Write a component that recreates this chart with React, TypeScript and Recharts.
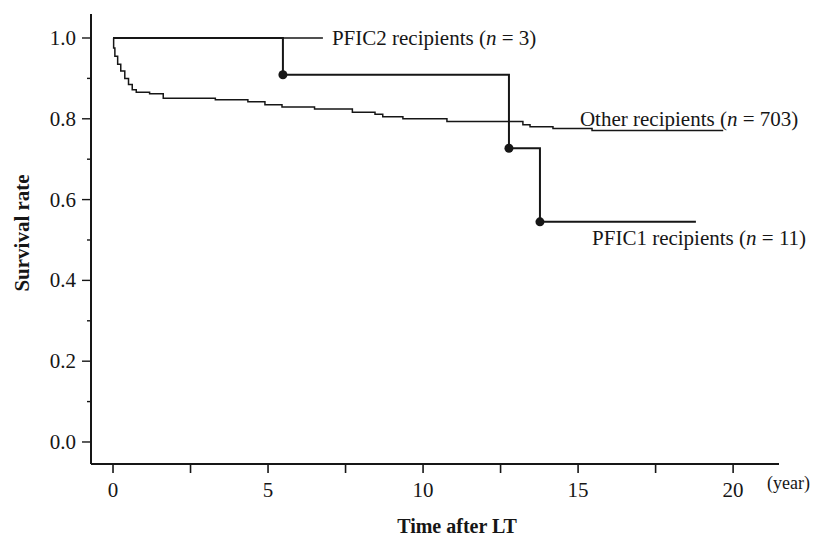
import { ComposedChart, Line, Scatter, XAxis, YAxis, ReferenceDot, Label } from 'recharts';

// Kaplan-Meier steps (time in years, survival rate)
const otherTimes = [0, 0.02, 0.06, 0.15, 0.25, 0.38, 0.5, 0.62, 0.75, 1.18, 1.62, 3.3, 4.35, 4.9, 5.45, 6.5, 7.72, 8.45, 8.7, 9.35, 10.77, 13.22, 13.45, 14.19, 15.45, 19.68];
const otherRates = [1.0, 0.975, 0.955, 0.935, 0.918, 0.9, 0.885, 0.872, 0.866, 0.862, 0.851, 0.847, 0.842, 0.835, 0.829, 0.824, 0.816, 0.811, 0.805, 0.8, 0.793, 0.785, 0.78, 0.776, 0.771, 0.771];

const pfic1Times = [0, 5.48, 12.77, 13.77, 18.8];
const pfic1Rates = [1.0, 0.909, 0.727, 0.545, 0.545];

const pfic2Times = [0, 6.77];
const pfic2Rates = [1.0, 1.0];

const pfic1EventTimes = [5.48, 12.77, 13.77];
const pfic1EventRates = [0.909, 0.727, 0.545];

const xTicks = [0, 2.5, 5, 7.5, 10, 12.5, 15, 17.5, 20];
const xTickLabels = ['0', '', '5', '', '10', '', '15', '', '20'];
const yTicks = [0, 0.1, 0.2, 0.3, 0.4, 0.5, 0.6, 0.7, 0.8, 0.9, 1.0];
const yTickLabels = ['0.0', '', '0.2', '', '0.4', '', '0.6', '', '0.8', '', '1.0'];

const toRows = (ts: number[], vs: number[]) => ts.map((t, i) => ({ t, v: vs[i] }));
const otherData = toRows(otherTimes, otherRates);
const pfic1Data = toRows(pfic1Times, pfic1Rates);
const pfic2Data = toRows(pfic2Times, pfic2Rates);
const pfic1Events = toRows(pfic1EventTimes, pfic1EventRates);

const FONT = "'Liberation Serif', 'Times New Roman', serif";
const INK = '#161616';
const TICK_SIZE = 9;
const TICK_MARGIN = 6;

const XTick = (props: any) => {
  const { x, y, payload } = props;
  const axisY = y - TICK_SIZE - TICK_MARGIN;
  const label = xTickLabels[xTicks.indexOf(payload.value)];
  return (
    <g>
      <line x1={x} x2={x} y1={axisY} y2={axisY + 9} stroke={INK} strokeWidth={1.6} />
      <text x={x} y={axisY + 33} textAnchor="middle" fontFamily={FONT} fontSize={21} fill={INK}>
        {label}
      </text>
    </g>
  );
};

const YTick = (props: any) => {
  const { x, y, payload } = props;
  const axisX = x + TICK_SIZE + TICK_MARGIN;
  const label = yTickLabels[yTicks.indexOf(payload.value)];
  const len = label ? 9 : 4;
  return (
    <g>
      <line x1={axisX - len} x2={axisX} y1={y} y2={y} stroke={INK} strokeWidth={1.4} />
      <text x={axisX - 15} y={y + 7} textAnchor="end" fontFamily={FONT} fontSize={21} fill={INK}>
        {label}
      </text>
    </g>
  );
};

const seriesLabel = (name: string, n: string) => (props: any) => {
  const { viewBox } = props;
  const cx = viewBox.x + viewBox.width / 2;
  const cy = viewBox.y + viewBox.height / 2;
  return (
    <text x={cx} y={cy + 7} fontFamily={FONT} fontSize={21} fill={INK}>
      <tspan>{name} (</tspan>
      <tspan fontStyle="italic">n</tspan>
      <tspan> = {n})</tspan>
    </text>
  );
};

const xTitle = (props: any) => {
  const { viewBox } = props;
  return (
    <g>
      <text x={viewBox.x + 366} y={viewBox.y + 69} textAnchor="middle" fontFamily={FONT} fontSize={20} fontWeight="bold" fill={INK}>
        Time after LT
      </text>
      <text x={viewBox.x + viewBox.width - 12} y={viewBox.y + 25} fontFamily={FONT} fontSize={18} fill={INK}>
        (year)
      </text>
    </g>
  );
};

const yTitle = (props: any) => {
  const { viewBox } = props;
  const x = viewBox.x - 19;
  const y = viewBox.y + viewBox.height / 2 - 6;
  return (
    <text x={x} y={y} transform={`rotate(-90 ${x} ${y})`} textAnchor="middle" dominantBaseline="central" fontFamily={FONT} fontSize={21} fontWeight="bold" fill={INK}>
      Survival rate
    </text>
  );
};

export default function App() {
  return (
    <div style={{ position: 'absolute', left: 0, top: 0, width: 814, height: 540, background: '#fff' }}>
      <ComposedChart width={814} height={540} margin={{ top: 14, right: 35, left: 41, bottom: 46 }}>
        <XAxis
          type="number"
          dataKey="t"
          domain={[-0.71, 21.48]}
          allowDataOverflow
          ticks={xTicks}
          tick={<XTick />}
          tickLine={false}
          tickSize={TICK_SIZE}
          tickMargin={TICK_MARGIN}
          axisLine={{ stroke: INK, strokeWidth: 2 }}
          height={30}
        >
          <Label content={xTitle} />
        </XAxis>
        <YAxis
          type="number"
          dataKey="v"
          domain={[-0.0545, 1.0594]}
          allowDataOverflow
          ticks={yTicks}
          tick={<YTick />}
          tickLine={false}
          tickSize={TICK_SIZE}
          tickMargin={TICK_MARGIN}
          axisLine={{ stroke: INK, strokeWidth: 2 }}
          width={50}
        >
          <Label content={yTitle} />
        </YAxis>
        <Line data={pfic2Data} dataKey="v" type="stepAfter" stroke={INK} strokeWidth={1.6} dot={false} isAnimationActive={false} />
        <Line data={otherData} dataKey="v" type="stepAfter" stroke={INK} strokeWidth={1.5} dot={false} isAnimationActive={false} />
        <Line data={pfic1Data} dataKey="v" type="stepAfter" stroke={INK} strokeWidth={2} dot={false} isAnimationActive={false} />
        <Scatter data={pfic1Events} dataKey="v" fill={INK} shape={(p: any) => <circle cx={p.cx} cy={p.cy} r={4.5} fill={INK} />} isAnimationActive={false} />
        <ReferenceDot x={7.06} y={1.0} r={0} fill="none" stroke="none" label={{ content: seriesLabel('PFIC2 recipients', '3') }} />
        <ReferenceDot x={15.06} y={0.8} r={0} fill="none" stroke="none" label={{ content: seriesLabel('Other recipients', '703') }} />
        <ReferenceDot x={15.45} y={0.505} r={0} fill="none" stroke="none" label={{ content: seriesLabel('PFIC1 recipients', '11') }} />
      </ComposedChart>
    </div>
  );
}
